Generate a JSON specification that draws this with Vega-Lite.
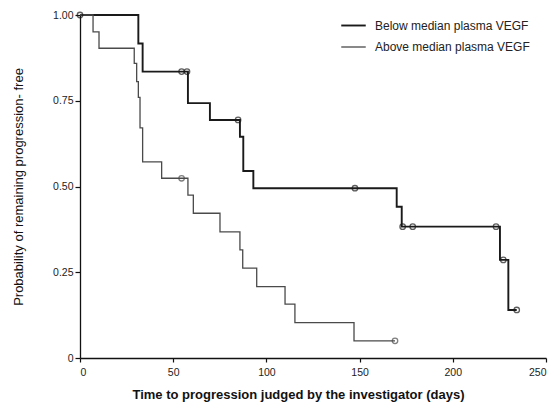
{
  "$schema": "https://vega.github.io/schema/vega-lite/v6.json",
  "width": 466,
  "height": 343,
  "autosize": "none",
  "padding": {"left": 80, "top": 15, "right": 12, "bottom": 50},
  "background": "white",
  "config": {
    "view": {"stroke": null},
    "font": "Liberation Sans",
    "axis": {"grid": false, "domainColor": "#111", "tickColor": "#111", "domainWidth": 1.3, "tickWidth": 1.2, "labelColor": "#222", "labelFontSize": 10.5, "titleColor": "#111", "titleFontSize": 12}
  },
  "datasets": {
    "curves": [
      {"group": "Below median plasma VEGF", "day": 0, "surv": 1.0},
      {"group": "Below median plasma VEGF", "day": 31.3, "surv": 0.917},
      {"group": "Below median plasma VEGF", "day": 33.6, "surv": 0.835},
      {"group": "Below median plasma VEGF", "day": 57.9, "surv": 0.743},
      {"group": "Below median plasma VEGF", "day": 69.7, "surv": 0.694},
      {"group": "Below median plasma VEGF", "day": 85.8, "surv": 0.645},
      {"group": "Below median plasma VEGF", "day": 87.6, "surv": 0.545},
      {"group": "Below median plasma VEGF", "day": 93.0, "surv": 0.495},
      {"group": "Below median plasma VEGF", "day": 169.9, "surv": 0.441},
      {"group": "Below median plasma VEGF", "day": 172.6, "surv": 0.383},
      {"group": "Below median plasma VEGF", "day": 225.3, "surv": 0.286},
      {"group": "Below median plasma VEGF", "day": 229.8, "surv": 0.14},
      {"group": "Below median plasma VEGF", "day": 234.3, "surv": 0.14},
      {"group": "Above median plasma VEGF", "day": 0, "surv": 1.0},
      {"group": "Above median plasma VEGF", "day": 7.0, "surv": 0.951},
      {"group": "Above median plasma VEGF", "day": 10.2, "surv": 0.903},
      {"group": "Above median plasma VEGF", "day": 29.1, "surv": 0.859},
      {"group": "Above median plasma VEGF", "day": 30.4, "surv": 0.806},
      {"group": "Above median plasma VEGF", "day": 31.3, "surv": 0.76},
      {"group": "Above median plasma VEGF", "day": 32.2, "surv": 0.671},
      {"group": "Above median plasma VEGF", "day": 33.6, "surv": 0.572},
      {"group": "Above median plasma VEGF", "day": 43.8, "surv": 0.524},
      {"group": "Above median plasma VEGF", "day": 57.9, "surv": 0.475},
      {"group": "Above median plasma VEGF", "day": 60.8, "surv": 0.422},
      {"group": "Above median plasma VEGF", "day": 75.1, "surv": 0.368},
      {"group": "Above median plasma VEGF", "day": 85.8, "surv": 0.315},
      {"group": "Above median plasma VEGF", "day": 87.3, "surv": 0.262},
      {"group": "Above median plasma VEGF", "day": 94.8, "surv": 0.208},
      {"group": "Above median plasma VEGF", "day": 110.0, "surv": 0.157},
      {"group": "Above median plasma VEGF", "day": 115.3, "surv": 0.103},
      {"group": "Above median plasma VEGF", "day": 147.0, "surv": 0.05},
      {"group": "Above median plasma VEGF", "day": 169.0, "surv": 0.05}
    ],
    "censored": [
      {"group": "Below median plasma VEGF", "day": 0, "surv": 1.0},
      {"group": "Below median plasma VEGF", "day": 54.5, "surv": 0.835},
      {"group": "Below median plasma VEGF", "day": 57.4, "surv": 0.835},
      {"group": "Below median plasma VEGF", "day": 84.8, "surv": 0.694},
      {"group": "Below median plasma VEGF", "day": 147.5, "surv": 0.495},
      {"group": "Below median plasma VEGF", "day": 173.1, "surv": 0.383},
      {"group": "Below median plasma VEGF", "day": 178.5, "surv": 0.383},
      {"group": "Below median plasma VEGF", "day": 223.2, "surv": 0.383},
      {"group": "Below median plasma VEGF", "day": 227.1, "surv": 0.286},
      {"group": "Below median plasma VEGF", "day": 234.3, "surv": 0.14},
      {"group": "Above median plasma VEGF", "day": 54.5, "surv": 0.524},
      {"group": "Above median plasma VEGF", "day": 169.0, "surv": 0.05}
    ]
  },
  "layer": [
    {
      "data": {"name": "curves"},
      "mark": {"type": "line", "interpolate": "step-after"},
      "encoding": {
        "x": {"field": "day", "type": "quantitative", "scale": {"domain": [0, 250], "nice": false},
              "axis": {"values": [0, 50, 100, 150, 200, 250], "title": "Time to progression judged by the investigator (days)", "titleFontWeight": "bold", "titleFontSize": 13, "titleX": 218, "titlePadding": 11, "labelPadding": 5, "tickSize": 4}},
        "y": {"field": "surv", "type": "quantitative", "scale": {"domain": [0, 1], "nice": false},
              "axis": {"values": [0, 0.25, 0.5, 0.75, 1], "labelExpr": "datum.value == 0 ? '0' : format(datum.value, '.2f')", "title": "Probability of remaining progression- free", "titleFontWeight": "normal", "titleFontSize": 13, "titlePadding": 27, "tickSize": 5}},
        "color": {"field": "group", "type": "nominal",
                  "scale": {"domain": ["Below median plasma VEGF", "Above median plasma VEGF"], "range": ["#1a1a1a", "#4a4a4a"]},
                  "legend": {"title": null, "orient": "none", "legendX": 260, "legendY": -3, "symbolType": "stroke", "symbolSize": 600, "labelFontSize": 12, "labelColor": "#222", "rowPadding": 2, "labelOffset": 8}},
        "strokeWidth": {"field": "group", "type": "nominal",
                  "scale": {"domain": ["Below median plasma VEGF", "Above median plasma VEGF"], "range": [1.9, 1.3]},
                  "legend": {"title": null, "orient": "none", "legendX": 260, "legendY": -3, "symbolType": "stroke", "symbolSize": 600, "labelFontSize": 12, "labelColor": "#222", "rowPadding": 2, "labelOffset": 8}}
      }
    },
    {
      "data": {"name": "censored"},
      "mark": {"type": "point", "shape": "circle", "filled": false, "size": 30, "strokeWidth": 1.3},
      "encoding": {
        "x": {"field": "day", "type": "quantitative"},
        "y": {"field": "surv", "type": "quantitative"},
        "stroke": {"field": "group", "type": "nominal", "scale": {"domain": ["Below median plasma VEGF", "Above median plasma VEGF"], "range": ["#1a1a1a", "#4a4a4a"]}, "legend": null}
      }
    }
  ]
}
